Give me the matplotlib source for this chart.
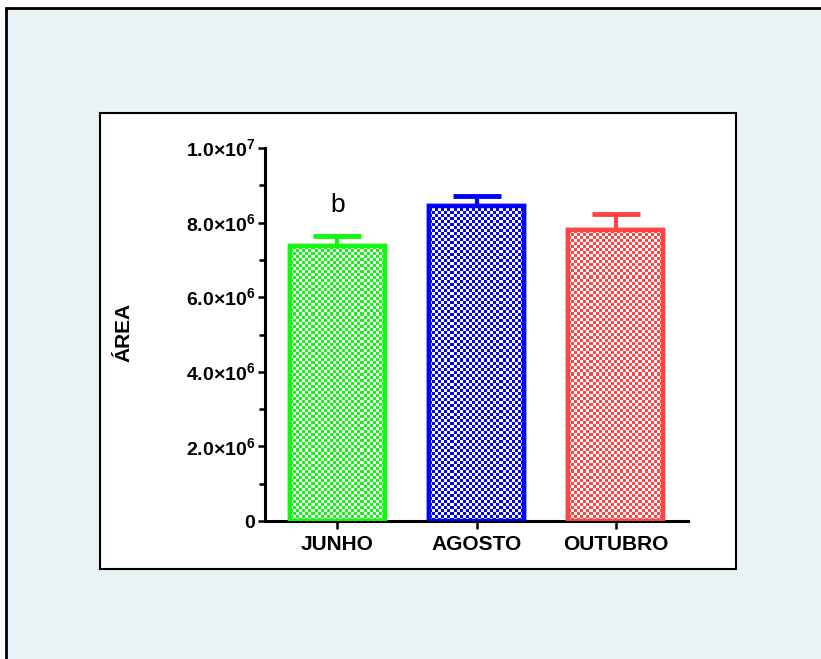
import numpy as np
import matplotlib
matplotlib.use("Agg")
from matplotlib import pyplot as plt
from matplotlib.patches import Rectangle

plt.rcParams['font.family'] = ['Liberation Sans', 'DejaVu Sans']
plt.rcParams['mathtext.fontset'] = 'custom'
plt.rcParams['mathtext.rm'] = 'Liberation Sans:bold'
plt.rcParams['mathtext.bf'] = 'Liberation Sans:bold'

# dados
meses = ["JUNHO", "AGOSTO", "OUTUBRO"]
media = [7.37e6, 8.45e6, 7.80e6]
erro = [0.27e6, 0.26e6, 0.43e6]
cores = ["#11F711", "#0000FF", "#FF4444"]
letras = ["b", "", ""]
yticks = [0, 2e6, 4e6, 6e6, 8e6, 1e7]
ytick_labels = ["0", r"$2.0{\times}10^{6}$", r"$4.0{\times}10^{6}$",
                r"$6.0{\times}10^{6}$", r"$8.0{\times}10^{6}$", r"$1.0{\times}10^{7}$"]
rotulo_y = "ÁREA"

W, H = 821, 659
fig = plt.figure(figsize=(W / 100, H / 100), dpi=100)
fig.patch.set_facecolor("white")

# painel de fundo e caixa branca
fig.add_artist(Rectangle((6 / W, -0.05), 1.1, 1 - 8 / H + 0.05, transform=fig.transFigure,
                         facecolor="#E8F3F5", edgecolor="black", linewidth=2, zorder=0))
fig.add_artist(Rectangle((100 / W, 1 - 569 / H), 636 / W, 456 / H, transform=fig.transFigure,
                         facecolor="white", edgecolor="black", linewidth=1.5, zorder=0.5))

ax = fig.add_axes([265 / W, 1 - 521 / H, (688 - 265) / W, (521 - 148) / H])
ax.set_zorder(2)
ax.set_facecolor("none")
x = np.arange(len(meses))
larg = 0.68
ax.set_xlim(-0.52, 2.52)
ax.set_ylim(0, 1e7)

# tamanho do quadriculado em pixels
cel = 3.0
px_x = (688 - 265) / 3.04
px_y = (521 - 148) / 1e7

for i in range(len(meses)):
    ax.errorbar(x[i], media[i], yerr=[[0], [erro[i]]], color=cores[i], capsize=17,
                capthick=3.5, elinewidth=3, zorder=1)
    barra = ax.bar(x[i], media[i], width=larg, facecolor="white", edgecolor=cores[i],
                   linewidth=3.2, zorder=3)[0]
    nx = int(larg * px_x / cel)
    ny = int(media[i] * px_y / cel)
    tab = (np.add.outer(np.arange(ny), np.arange(nx)) % 2).astype(float)
    cmap = matplotlib.colors.ListedColormap(["white", cores[i]])
    im = ax.imshow(tab, cmap=cmap, interpolation="nearest", aspect="auto", origin="lower",
                   extent=[x[i] - larg / 2, x[i] + larg / 2, 0, media[i]], zorder=3.5)
    im.set_clip_path(barra)
    ax.bar(x[i], media[i], width=larg, facecolor="none", edgecolor=cores[i],
           linewidth=3.2, zorder=4)
    if letras[i]:
        ax.text(x[i], media[i] + erro[i] + 0.64e6, letras[i], ha="center", va="baseline",
                fontsize=19)

ax.set_xlim(-0.52, 2.52)
ax.set_ylim(0, 1e7)
ax.spines["top"].set_visible(False)
ax.spines["right"].set_visible(False)
ax.spines["left"].set_linewidth(2.2)
ax.spines["bottom"].set_linewidth(2.2)
ax.set_xticks(x)
ax.set_xticklabels(meses, fontsize=15, fontweight="bold")
ax.set_yticks(yticks)
ax.set_yticklabels(ytick_labels, fontsize=14, fontweight="bold")
ax.set_yticks(np.arange(1e6, 1e7, 2e6), minor=True)
ax.tick_params(axis="x", which="major", length=6, width=1.8, direction="out", pad=4)
ax.tick_params(axis="y", which="major", length=5, width=1.8, direction="out", pad=2)
ax.tick_params(axis="y", which="minor", length=4, width=1.8, direction="out")
ax.set_ylabel(rotulo_y, fontsize=15, fontweight="bold")
ax.yaxis.set_label_coords((133 - 265) / 423, 0.505)

fig.savefig("out.png", dpi=100)
